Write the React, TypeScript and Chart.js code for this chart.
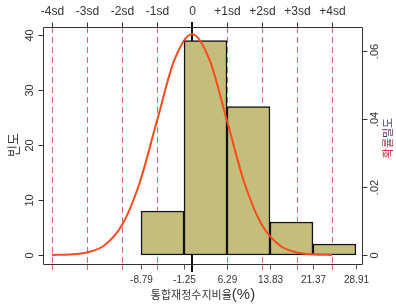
import React, { useEffect, useRef } from 'react';
import { Chart, registerables } from 'chart.js';

Chart.register(...registerables);

// ---- data ----
const binEdges = [-8.79, -1.25, 6.29, 13.83, 21.37, 28.91];
const counts = [8, 39, 27, 6, 2];
const edgeLabels = ['-8.79', '-1.25', '6.29', '13.83', '21.37', '28.91'];

const sdLabels = ['-4sd', '-3sd', '-2sd', '-1sd', '0', '+1sd', '+2sd', '+3sd', '+4sd'];
const sdValues = [-24.41, -18.27, -12.13, -5.99, 0.15, 6.29, 12.43, 18.57, 24.71];

const countTicks = [0, 10, 20, 30, 40];
const countTickLabels = ['0', '10', '20', '30', '40'];
const densityTicks = [0, 0.02, 0.04, 0.06];
const densityTickLabels = ['0', '.02', '.04', '.06'];

// normal density curve (in frequency units)
const curveX = [-24.41, -21.34, -18.27, -15.2, -12.13, -9.06, -5.99, -2.92, 0.15, 3.22, 6.29, 9.36, 12.43, 15.5, 18.57, 21.64, 24.71];
const curveY = [0.01, 0.09, 0.45, 1.77, 5.44, 13.05, 24.4, 35.5, 40.2, 35.5, 24.4, 13.05, 5.44, 1.77, 0.45, 0.09, 0.01];

const xTitle = '통합재정수지비율';
const xTitleUnit = '(%)';
const yTitle = '빈도';
const y2TitleChars = ['확', '률', '밀', '도'];
const y2TitleColors = ['#cc3333', '#a83355', '#6e3468', '#3e3a70'];

const X_MIN = -25.99;
const X_MAX = 30.15;
const Y_MIN = -1.64;
const Y_MAX = 41.45;

const NUM_FONT = '"Liberation Sans", Arial, sans-serif';
const KR_FONT = '"Noto Sans CJK KR", "Noto Sans", sans-serif';

export default function App() {
  const ref = useRef<HTMLCanvasElement | null>(null);

  useEffect(() => {
    const canvas = ref.current;
    if (!canvas) return;
    const total = counts.reduce((a, b) => a + b, 0);
    const binWidth = binEdges[1] - binEdges[0];
    const densFactor = 1 / (total * binWidth);

    const behind = {
      id: 'behind',
      beforeDatasetsDraw(chart: any) {
        const { ctx, chartArea } = chart;
        const xs = chart.scales.x;
        ctx.save();
        // sd dashed lines
        sdValues.forEach((v, i) => {
          if (sdLabels[i] === '0') return;
          const px = Math.round(xs.getPixelForValue(v)) + 0.5;
          ctx.strokeStyle = 'rgba(205,50,70,0.75)';
          ctx.lineWidth = 1;
          ctx.setLineDash([6, 4]);
          ctx.beginPath();
          ctx.moveTo(px, chartArea.top);
          ctx.lineTo(px, chartArea.bottom);
          ctx.stroke();
          ctx.setLineDash([]);
          ctx.beginPath();
          ctx.moveTo(px, chartArea.bottom);
          ctx.lineTo(px, chartArea.bottom + 6);
          ctx.stroke();
        });
        // mean line
        const mi = sdLabels.indexOf('0');
        const mx = Math.round(xs.getPixelForValue(sdValues[mi]));
        ctx.strokeStyle = '#111';
        ctx.lineWidth = 2;
        ctx.beginPath();
        ctx.moveTo(mx, chartArea.top - 5);
        ctx.lineTo(mx, chartArea.bottom + 8);
        ctx.stroke();
        ctx.restore();
      },
    };

    const axes = {
      id: 'axes',
      afterDraw(chart: any) {
        const { ctx, chartArea } = chart;
        const xs = chart.scales.x;
        const ys = chart.scales.y;
        const L = chartArea.left + 0.5;
        const R = chartArea.right - 0.5;
        const T = chartArea.top + 0.5;
        const B = chartArea.bottom + 0.5;
        ctx.save();
        ctx.strokeStyle = '#333';
        ctx.lineWidth = 1;
        ctx.beginPath();
        ctx.moveTo(L, T);
        ctx.lineTo(R, T);
        ctx.lineTo(R, B);
        ctx.lineTo(L, B);
        ctx.closePath();
        ctx.stroke();

        ctx.fillStyle = '#333';
        // left ticks and labels
        ctx.font = `11px ${NUM_FONT}`;
        ctx.textAlign = 'center';
        ctx.textBaseline = 'middle';
        countTicks.forEach((v, i) => {
          const py = Math.round(ys.getPixelForValue(v)) + 0.5;
          ctx.beginPath();
          ctx.moveTo(L - 5, py);
          ctx.lineTo(L, py);
          ctx.stroke();
          ctx.save();
          ctx.translate(30, py);
          ctx.rotate(-Math.PI / 2);
          ctx.fillText(countTickLabels[i], 0, 0);
          ctx.restore();
        });
        // right ticks and labels (density)
        densityTicks.forEach((d, i) => {
          const py = Math.round(ys.getPixelForValue(d / densFactor)) + 0.5;
          ctx.beginPath();
          ctx.moveTo(R, py);
          ctx.lineTo(R + 5, py);
          ctx.stroke();
          ctx.save();
          ctx.translate(375, py);
          ctx.rotate(-Math.PI / 2);
          ctx.fillText(densityTickLabels[i], 0, 0);
          ctx.restore();
        });
        // top sd ticks and labels
        ctx.font = `12px ${NUM_FONT}`;
        sdValues.forEach((v, i) => {
          const px = Math.round(xs.getPixelForValue(v)) + 0.5;
          if (sdLabels[i] !== '0') {
            ctx.beginPath();
            ctx.moveTo(px, T - 5);
            ctx.lineTo(px, T);
            ctx.stroke();
          }
          ctx.fillText(sdLabels[i], px, 12);
        });
        // bottom bin-edge ticks and labels
        ctx.font = `10px ${NUM_FONT}`;
        binEdges.forEach((v, i) => {
          const px = Math.round(xs.getPixelForValue(v)) + 0.5;
          ctx.strokeStyle = '#555';
          ctx.beginPath();
          ctx.moveTo(px, B);
          ctx.lineTo(px, B + 5);
          ctx.stroke();
          ctx.fillText(edgeLabels[i], px, 280);
        });
        // x title
        const cx = (chartArea.left + chartArea.right) / 2;
        ctx.font = `11px ${KR_FONT}`;
        const w1 = ctx.measureText(xTitle).width;
        ctx.font = `15px ${NUM_FONT}`;
        const w2 = ctx.measureText(xTitleUnit).width;
        const startX = cx - (w1 + w2) / 2;
        ctx.textAlign = 'left';
        ctx.font = `11px ${KR_FONT}`;
        ctx.fillText(xTitle, startX, 295);
        ctx.font = `15px ${NUM_FONT}`;
        ctx.fillText(xTitleUnit, startX + w1, 295);
        // y title
        ctx.textAlign = 'center';
        ctx.font = `13px ${KR_FONT}`;
        ctx.save();
        ctx.translate(13, 145);
        ctx.rotate(-Math.PI / 2);
        ctx.fillText(yTitle, 0, 0);
        ctx.restore();
        // y2 title (colored characters)
        ctx.font = `11px ${KR_FONT}`;
        ctx.save();
        ctx.translate(388, 138);
        ctx.rotate(-Math.PI / 2);
        const widths = y2TitleChars.map((c) => ctx.measureText(c).width);
        const tw = widths.reduce((a, b) => a + b, 0);
        let ox = -tw / 2;
        ctx.textAlign = 'left';
        y2TitleChars.forEach((c, i) => {
          ctx.fillStyle = y2TitleColors[i];
          ctx.fillText(c, ox, 0);
          ox += widths[i];
        });
        ctx.restore();
        ctx.restore();
      },
    };

    const chart = new Chart(canvas, {
      type: 'bar',
      data: {
        datasets: [
          {
            type: 'line',
            data: curveX.map((x, i) => ({ x, y: curveY[i] })),
            borderColor: '#ff4a1c',
            borderWidth: 2,
            pointRadius: 0,
            cubicInterpolationMode: 'monotone',
            fill: false,
            order: 0,
          } as any,
          {
            type: 'bar',
            data: counts.map((c, i) => ({ x: (binEdges[i] + binEdges[i + 1]) / 2, y: c })),
            backgroundColor: '#c5bd7c',
            borderColor: '#111',
            borderWidth: 1.5,
            borderSkipped: false,
            barPercentage: 1,
            categoryPercentage: 1,
            grouped: false,
            order: 1,
          } as any,
        ],
      },
      options: {
        responsive: false,
        animation: false,
        layout: { padding: { left: 43, right: 33, top: 27, bottom: 40 } },
        plugins: { legend: { display: false }, tooltip: { enabled: false } },
        scales: {
          x: { type: 'linear', min: X_MIN, max: X_MAX, offset: false, display: false },
          y: { type: 'linear', min: Y_MIN, max: Y_MAX, display: false },
        },
      },
      plugins: [behind, axes],
    });
    return () => chart.destroy();
  }, []);

  return (
    <canvas
      ref={ref}
      width={396}
      height={304}
      style={{ position: 'fixed', left: 0, top: 0, width: 396, height: 304, display: 'block', background: '#fff' }}
    />
  );
}
